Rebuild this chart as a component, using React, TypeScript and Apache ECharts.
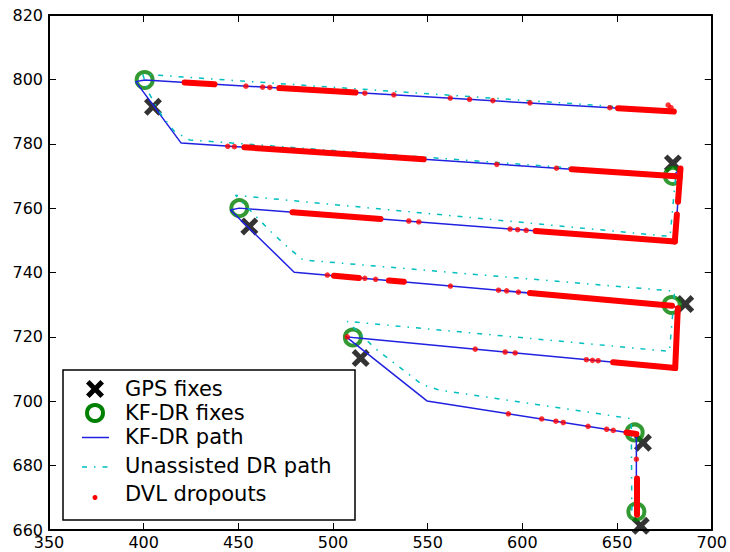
import React, { useEffect, useRef } from "react";
import * as echarts from "echarts";

// Axis ticks
const xTicks = { min: 350, max: 700, interval: 50 };
const yTicks = { min: 660, max: 820, interval: 20 };

// Legend labels
const legendLabels = ["GPS fixes", "KF-DR fixes", "KF-DR path", "Unassisted DR path", "DVL dropouts"];

// GPS fixes (x, y)
const gpsFixes = [
  [404.9, 791.5], [679.5, 773.9], [455.8, 754.3], [686.0, 730.2],
  [514.6, 713.4], [663.7, 687.1], [662.5, 661.3],
];

// KF-DR fixes (x, y)
const kfFixes = [
  [400.5, 799.8], [679.5, 770.0], [450.5, 760.0], [678.9, 729.9],
  [510.5, 719.8], [659.3, 690.3], [660.2, 665.7],
];

// KF-DR path (x, y)
const kfPath = [
  [680.3, 790.0], [400.5, 799.8], [395.8, 799.3], [419.8, 780.2],
  [679.5, 770.0], [683.5, 772.3], [680.5, 749.6], [450.5, 760.0],
  [445.8, 759.4], [479.5, 740.1], [679.0, 729.7], [682.1, 728.9],
  [680.7, 710.3], [510.5, 719.8], [507.0, 720.0], [549.6, 700.1],
  [660.2, 689.8], [660.2, 665.7],
];

// Unassisted DR path (x, y)
const drPath = [
  [680.3, 790.3], [399.5, 801.6], [402.3, 796.2], [409.3, 789.0],
  [416.3, 783.8], [424.2, 781.2], [681.0, 770.1], [678.0, 751.2],
  [448.5, 764.0], [460.2, 756.9], [468.0, 752.2], [476.8, 747.5],
  [484.2, 743.9], [680.4, 734.2], [677.7, 715.5], [507.5, 724.8],
  [522.5, 716.3], [547.0, 705.2], [556.0, 703.5], [657.5, 694.6],
  [657.8, 666.0],
];

// DVL dropouts: dense runs (start, end)
const dropoutRuns = [
  [[421.6, 799.06], [437.4, 798.5]],
  [[471.6, 797.3], [511.9, 795.9]],
  [[650.5, 791.05], [680.0, 790.0]],
  [[453.2, 778.9], [547.9, 775.2]],
  [[626.0, 772.1], [681.0, 769.9]],
  [[683.5, 772.3], [682.2, 762.0]],
  [[681.6, 758.0], [680.5, 749.6]],
  [[478.6, 758.7], [525.1, 756.6]],
  [[607.0, 752.9], [680.5, 749.6]],
  [[500.5, 739.0], [513.7, 738.3]],
  [[529.5, 737.5], [537.4, 737.1]],
  [[604.0, 733.6], [679.0, 729.7]],
  [[682.1, 728.9], [680.7, 710.3]],
  [[647.9, 712.1], [680.7, 710.3]],
  [[654.9, 690.3], [660.2, 689.8]],
  [[660.2, 676.0], [660.2, 664.7]],
];

// DVL dropouts: isolated points
const dropoutPoints = [
  [454.0, 797.9], [462.8, 797.6], [466.6, 797.5], [516.8, 795.7], [532.1, 795.2],
  [561.9, 794.2], [572.1, 793.8], [584.4, 793.4], [604.0, 792.7], [646.2, 791.2],
  [677.0, 792.0], [678.5, 791.2],
  [444.4, 779.2], [447.9, 779.1], [586.5, 773.6], [618.0, 772.4],
  [540.0, 756.0], [545.3, 755.7], [593.5, 753.5], [597.5, 753.3], [602.0, 753.1],
  [497.0, 739.2], [516.8, 738.2], [522.5, 737.9], [562.0, 735.8], [587.4, 734.5],
  [591.7, 734.3], [597.9, 733.9],
  [507.5, 720.0], [575.1, 716.2], [590.9, 715.3], [596.2, 715.0], [633.8, 712.9],
  [637.0, 712.7], [640.0, 712.6],
  [592.6, 696.1], [610.2, 694.5], [617.7, 693.8], [621.6, 693.4], [634.7, 692.2],
  [644.5, 691.3], [648.0, 690.95],
  [660.2, 682.0],
];

const BLUE = "#2020e0";
const CYAN = "#00bfbf";
const RED = "#ff0000";
const GREEN = "#008000";
const FONT = '"DejaVu Sans", "Liberation Sans", sans-serif';
const X_PATH = "path://M0,2L2,0L5,3L8,0L10,2L7,5L10,8L8,10L5,7L2,10L0,8L3,5Z";

function xPolygon(cx: number, cy: number, s: number) {
  const u = [[0, 2], [2, 0], [5, 3], [8, 0], [10, 2], [7, 5], [10, 8], [8, 10], [5, 7], [2, 10], [0, 8], [3, 5]];
  return u.map(([a, b]) => [cx + (a - 5) * s / 10, cy + (b - 5) * s / 10]);
}

export default function App() {
  const ref = useRef<HTMLDivElement>(null);
  useEffect(() => {
    if (!ref.current) return;
    const chart = echarts.init(ref.current, undefined, { renderer: "svg" });
    const axisLine = { show: true, lineStyle: { color: "#000", width: 2 } };
    const tick = { show: true, inside: true, length: 7, lineStyle: { color: "#000", width: 1 } };
    const label = { color: "#000", fontSize: 16, fontFamily: FONT };
    const legX = 95;
    const legTextX = 125;
    const rows = [389, 413, 437, 466, 494];
    const option: any = {
      animation: false,
      backgroundColor: "#fff",
      grid: { left: 49, top: 15, right: 16, bottom: 22, containLabel: false },
      xAxis: [
        {
          type: "value", position: "bottom", ...xTicks,
          axisLine, axisTick: tick, splitLine: { show: false },
          axisLabel: { ...label, margin: 4 },
        },
        {
          type: "value", position: "top", ...xTicks,
          axisLine, axisTick: tick, splitLine: { show: false },
          axisLabel: { show: false },
        },
      ],
      yAxis: [
        {
          type: "value", position: "left", ...yTicks,
          axisLine, axisTick: tick, splitLine: { show: false },
          axisLabel: { ...label, margin: 6 },
        },
        {
          type: "value", position: "right", ...yTicks,
          axisLine, axisTick: tick, splitLine: { show: false },
          axisLabel: { show: false },
        },
      ],
      series: [
        {
          name: legendLabels[0], type: "scatter", data: gpsFixes,
          symbol: X_PATH, symbolSize: 18, itemStyle: { color: "#000" }, z: 2,
        },
        {
          name: legendLabels[1], type: "scatter", data: kfFixes,
          symbol: "circle", symbolSize: 16,
          itemStyle: { color: "rgba(0,0,0,0)", borderColor: GREEN, borderWidth: 4 }, z: 2,
        },
        {
          name: legendLabels[2], type: "line", data: kfPath, showSymbol: false, symbol: "none",
          lineStyle: { color: BLUE, width: 1.5 }, z: 3,
        },
        {
          name: legendLabels[3], type: "line", data: drPath, showSymbol: false, symbol: "none",
          lineStyle: { color: CYAN, width: 1.5, type: [5, 7, 1.5, 7] }, z: 3,
        },
        {
          name: legendLabels[4], type: "lines", coordinateSystem: "cartesian2d", polyline: false,
          data: dropoutRuns.map((c) => ({ coords: c })),
          lineStyle: { color: RED, width: 6, opacity: 1, cap: "round" }, z: 4,
        },
        {
          name: legendLabels[4] + " pts", type: "scatter", data: dropoutPoints,
          symbol: "circle", symbolSize: 5.5, itemStyle: { color: RED }, z: 4,
        },
      ],
      graphic: [
        {
          type: "rect", z: 100,
          shape: { x: 63, y: 370, width: 292, height: 150 },
          style: { fill: "#fff", stroke: "#000", lineWidth: 1.5 },
        },
        {
          type: "polygon", z: 101,
          shape: { points: xPolygon(legX, rows[0], 18) },
          style: { fill: "#000" },
        },
        {
          type: "circle", z: 101,
          shape: { cx: legX, cy: rows[1], r: 8 },
          style: { fill: "none", stroke: GREEN, lineWidth: 4 },
        },
        {
          type: "line", z: 101,
          shape: { x1: 82, y1: rows[2] + 0.5, x2: 109, y2: rows[2] + 0.5 },
          style: { stroke: BLUE, lineWidth: 1.5 },
        },
        {
          type: "line", z: 101,
          shape: { x1: 82, y1: rows[3] + 1, x2: 109, y2: rows[3] + 1 },
          style: { stroke: CYAN, lineWidth: 1.5, lineDash: [5, 7, 1.5, 7] },
        },
        {
          type: "circle", z: 101,
          shape: { cx: legX, cy: rows[4] + 3.5, r: 2.5 },
          style: { fill: RED },
        },
        ...legendLabels.map((t, i) => ({
          type: "text", z: 101,
          style: {
            text: t, x: legTextX, y: rows[i], fill: "#000",
            font: `21px ${FONT}`, align: "left", verticalAlign: "middle",
          },
        })),
      ],
    };
    chart.setOption(option);
    return () => chart.dispose();
  }, []);
  return (
    <div
      ref={ref}
      style={{ position: "absolute", left: 0, top: 0, width: 730, height: 552 }}
    />
  );
}
